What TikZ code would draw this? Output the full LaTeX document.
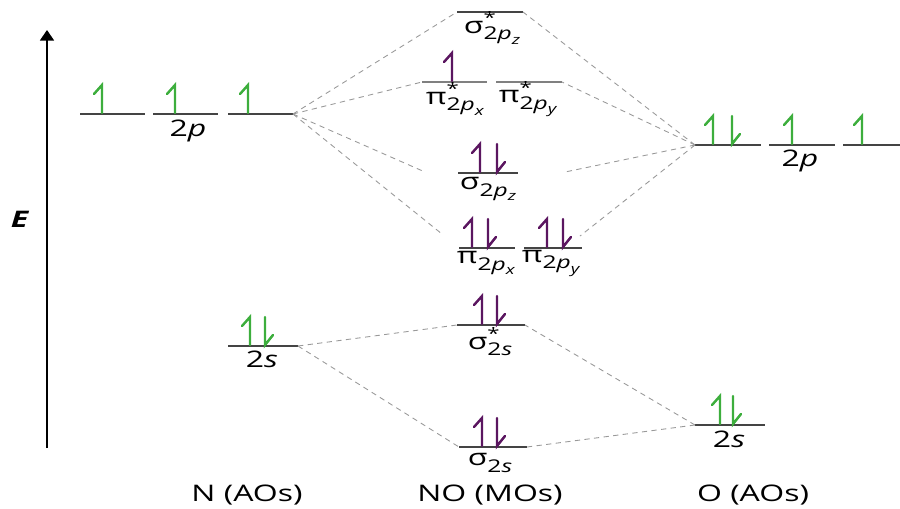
\documentclass[tikz,border=0pt]{standalone}
\usepackage{fontspec}
\setmainfont{Open Sans}[FakeStretch=1.4]
\usetikzlibrary{arrows.meta}
\definecolor{spinGreen}{HTML}{3DAE3D}
\definecolor{spinPurple}{HTML}{5B1660}
\definecolor{levelGray}{HTML}{444444}

% orbital label pieces
\newcommand{\orbsub}[1]{\raisebox{-0.55ex}{\fontsize{10}{11}\selectfont 2\textit{p}\raisebox{-0.45ex}{\fontsize{7.5}{8}\selectfont\textit{#1}}}}
\newcommand{\orbs}{\raisebox{-0.55ex}{\fontsize{10}{11}\selectfont 2\textit{s}}}
\newcommand{\orbstar}{\rlap{\raisebox{0.75ex}{\fontsize{9}{10}\selectfont *}}}

% level line with end coordinates
\newcommand{\molevel}[5][]{\draw[orbLine,#1] (#3,#5) coordinate (#2-l) -- (#4,#5) coordinate (#2-r);}
% electrons
\newcommand{\spinup}[3]{\draw[spinArrow,#1] (#2,#3-1) -- (#2,#3-29) -- (#2-8,#3-20);}
\newcommand{\spindn}[3]{\draw[spinArrow,#1] (#2,#3-29) -- (#2,#3-1) -- (#2+8,#3-11);}

\begin{document}
\begin{tikzpicture}[x=0.02cm, y=-0.02cm,
    orbLine/.style={draw=levelGray, line width=1.1pt},
    corrLine/.style={draw=gray!80, dashed, dash pattern=on 3pt off 2.5pt, line width=0.5pt},
    spinArrow/.style={line width=1.4pt, line cap=round, line join=miter},
    lab/.style={font=\fontsize{13}{15}\selectfont, inner sep=0pt},
    head/.style={font=\fontsize{13}{15}\selectfont, inner sep=0pt}]
  \useasboundingbox (0,0) rectangle (900,508);

  % energy axis
  \coordinate (Ebot) at (47,448);
  \coordinate (Etop) at (47,30);
  \draw[line width=0.8pt, -{Triangle[width=8pt,length=6pt]}] (Ebot) -- (Etop);
  \node[lab] (Elab) at (20,219) {\textbf{\textit{E}}};

  % N atomic orbitals
  \molevel{Npa}{80}{145}{114}
  \molevel{Npb}{153}{218}{114}
  \molevel{Npc}{228}{293}{114}
  \molevel{Ns}{228}{298}{346}
  \spinup{spinGreen}{102}{114}
  \spinup{spinGreen}{175}{114}
  \spinup{spinGreen}{248}{114}
  \spinup{spinGreen}{250}{346}
  \spindn{spinGreen}{265}{346}
  \node[lab] (Nplab) at (188,131) {2\textit{p}};
  \node[lab] (Nslab) at (262,359) {2\textit{s}};

  % O atomic orbitals
  \molevel{Opa}{695}{761}{145}
  \molevel{Opb}{769}{835}{145}
  \molevel{Opc}{843}{900}{145}
  \molevel{Os}{695}{765}{425}
  \spinup{spinGreen}{713}{145}
  \spindn{spinGreen}{732}{145}
  \spinup{spinGreen}{792}{145}
  \spinup{spinGreen}{862}{145}
  \spinup{spinGreen}{720}{425}
  \spindn{spinGreen}{733}{425}
  \node[lab] (Oplab) at (800,161) {2\textit{p}};
  \node[lab] (Oslab) at (729,439) {2\textit{s}};

  % NO molecular orbitals
  \molevel[line width=1.6pt]{sSpz}{457}{523}{12}
  \molevel[draw=gray]{pSx}{422}{487}{82}
  \molevel[draw=gray]{pSy}{496}{562}{82}
  \molevel{spz}{458}{518}{173}
  \molevel{px}{459}{515}{248}
  \molevel{py}{524}{582}{248}
  \molevel{sSs}{457}{525}{325}
  \molevel{ss}{459}{527}{447}
  \spinup{spinPurple}{452}{82}
  \spinup{spinPurple}{480}{173}
  \spindn{spinPurple}{497}{173}
  \spinup{spinPurple}{472}{248}
  \spindn{spinPurple}{488}{248}
  \spinup{spinPurple}{547}{248}
  \spindn{spinPurple}{563}{248}
  \spinup{spinPurple}{482}{325}
  \spindn{spinPurple}{497}{325}
  \spinup{spinPurple}{482}{447}
  \spindn{spinPurple}{497}{447}

  \node[lab] (sSpzlab) at (492,28) {σ\orbstar\orbsub{z}};
  \node[lab] (pSxlab) at (455,99) {π\orbstar\orbsub{x}};
  \node[lab] (pSylab) at (528,99) {π\orbstar\orbsub{y}};
  \node[lab] (spzlab) at (488,189) {σ\orbsub{z}};
  \node[lab] (pxlab) at (486,263) {π\orbsub{x}};
  \node[lab] (pylab) at (551,263) {π\orbsub{y}};
  \node[lab] (sSslab) at (490,342) {σ\orbstar\orbs};
  \node[lab] (sslab) at (490,463) {σ\orbs};

  % correlation lines
  \coordinate (spzNend) at (425,172);
  \coordinate (pxNend) at (442,234);
  \coordinate (spzOend) at (565,172);
  \coordinate (pyOend) at (580,236);
  \draw[corrLine] (Npc-r) -- (sSpz-l);
  \draw[corrLine] (Npc-r) -- (pSx-l);
  \draw[corrLine] (Npc-r) -- (spzNend);
  \draw[corrLine] (Npc-r) -- (pxNend);
  \draw[corrLine] (Opa-l) -- (sSpz-r);
  \draw[corrLine] (Opa-l) -- (pSy-r);
  \draw[corrLine] (Opa-l) -- (spzOend);
  \draw[corrLine] (Opa-l) -- (pyOend);
  \draw[corrLine] (Ns-r) -- (sSs-l);
  \draw[corrLine] (Ns-r) -- (ss-l);
  \draw[corrLine] (Os-l) -- (sSs-r);
  \draw[corrLine] (Os-l) -- (ss-r);

  % column headings
  \node[head] (Nhead) at (247,495) {N (AOs)};
  \node[head] (NOhead) at (490,495) {NO (MOs)};
  \node[head] (Ohead) at (753,495) {O (AOs)};
\end{tikzpicture}
\end{document}
